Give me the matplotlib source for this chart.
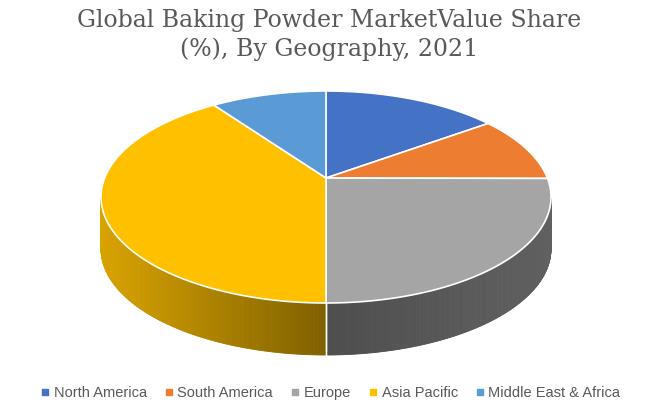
import numpy as np
import matplotlib.pyplot as plt
from matplotlib.patches import Polygon
from matplotlib.lines import Line2D

regions = ['North America', 'South America', 'Europe', 'Asia Pacific', 'Middle East & Africa']
shares = [12.8, 9.4, 27.8, 41.7, 8.3]
colors = ['#4472C4', '#ED7D31', '#A5A5A5', '#FFC000', '#5B9BD5']
side_dark = ['#2A4A80', '#A04F18', '#3A3A3A', '#7F6000', '#3A6A99']
side_light = ['#3D66B0', '#D06A25', '#606060', '#D9A300', '#5088C0']

# apex of the wedges sits above the rim ellipse centre (perspective look)
ax0, ay0 = 326, 178
cx, cy, rx, ry, depth = 326, 197, 225, 106, 52

fig = plt.figure(figsize=(6.58, 4.11), dpi=100)
ax = fig.add_axes([0, 0, 1, 1])
ax.set_xlim(0, 658)
ax.set_ylim(411, 0)
ax.axis('off')


def pt(t, dy=0):
    r = np.radians(t)
    return cx + rx * np.cos(r), cy - ry * np.sin(r) + dy


def mix(c1, c2, f):
    a = np.array(plt.matplotlib.colors.to_rgb(c1))
    b = np.array(plt.matplotlib.colors.to_rgb(c2))
    return tuple(a + (b - a) * min(max(f, 0), 1))


total = sum(shares)
bounds = []
start = 90.0
for s in shares:
    end = start - 360 * s / total
    bounds.append((start, end))
    start = end

# side walls
for i, (a0, a1) in enumerate(bounds):
    ts = np.linspace(a1, a0, 200)
    vis = [t for t in ts if np.sin(np.radians(t)) <= 1e-9]
    if len(vis) < 2:
        continue
    for k in range(len(vis) - 1):
        t0, t1 = vis[k], vis[k + 1]
        f = (pt(t0)[0] - (cx - rx)) / (2 * rx)
        if i == 3:
            col = mix(side_light[i], side_dark[i], f / 0.5)
        else:
            col = mix(side_dark[i], side_light[i], f)
        p = [pt(t0), pt(t1), pt(t1, depth), pt(t0, depth)]
        ax.add_patch(Polygon(p, closed=True, facecolor=col, edgecolor=col, lw=0.6))
    for t in (a0, a1):
        if np.sin(np.radians(t)) < -1e-6:
            x, y = pt(t)
            ax.plot([x, x], [y, y + depth], color='white', lw=1)

# top faces
for i, (a0, a1) in enumerate(bounds):
    ts = np.linspace(a0, a1, 200)
    p = [(ax0, ay0)] + [pt(t) for t in ts]
    ax.add_patch(Polygon(p, closed=True, facecolor=colors[i], edgecolor='white', lw=1.2))

ax.text(329, 35, 'Global Baking Powder MarketValue Share\n(%), By Geography, 2021',
        ha='center', va='center', fontsize=17, color='#595959',
        family='DejaVu Serif', linespacing=1.25)

handles = [Line2D([], [], marker='s', ls='', color=c, markersize=5) for c in colors]
fig.legend(handles, regions, loc='lower center', bbox_to_anchor=(0.5, -0.005), ncol=5,
           frameon=False, fontsize=10.5, labelcolor='#595959', handletextpad=0.1,
           columnspacing=1.0, handlelength=1.0, prop={'family': 'Liberation Sans', 'size': 10.5})

fig.savefig('out.png', dpi=100)
